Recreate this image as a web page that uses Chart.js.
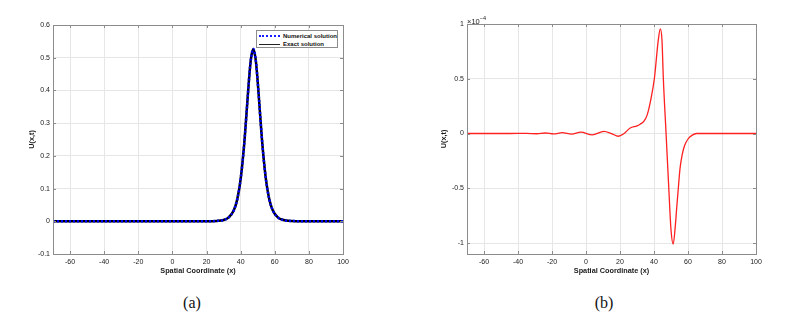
<!DOCTYPE html>
<html>
<head>
<meta charset="utf-8">
<script src="https://cdn.jsdelivr.net/npm/chart.js@4/dist/chart.umd.min.js"></script>
<style>
  body { margin: 0; background: #fff; }
  #wrap { position: relative; width: 804px; height: 322px; overflow: hidden; font-family: "Liberation Sans", Arial, sans-serif; }
  canvas { position: absolute; top: 0; }
  .legend { position: absolute; left: 256px; top: 30px; width: 82px; height: 18px; box-sizing: border-box;
            border: 1px solid #8c8c8c; background: #fff; font-family: "Liberation Sans", Arial, sans-serif;
            font-weight: bold; font-size: 6px; color: #111; padding: 1px 0 0 2px; z-index: 2; }
  .legend .row { height: 8px; line-height: 8px; display: flex; align-items: center; white-space: nowrap; }
  .legend .sample { width: 21px; margin-right: 3px; height: 0; }
  .legend .dotted { border-top: 2px dotted #1a1aff; }
  .legend .solid { border-top: 1px solid #222; }
  .expo { position: absolute; left: 467px; top: 15px; font-size: 7.5px; color: #222; z-index: 2; }
  .expo sup { font-size: 5.5px; }
  .cap { position: absolute; top: 294px; width: 60px; text-align: center; font-family: "Liberation Serif", "DejaVu Serif", "Times New Roman", serif;
         font-size: 16px; color: #111; }
</style>
</head>
<body>
<div id="wrap">
  <canvas id="chart-a" width="400" height="290" style="left:0"></canvas>
  <canvas id="chart-b" width="404" height="290" style="left:400px"></canvas>
  <div class="legend">
    <div class="row"><span class="sample dotted"></span>Numerical solution</div>
    <div class="row"><span class="sample solid"></span>Exact solution</div>
  </div>
  <div class="expo">&times;10<sup>&minus;4</sup></div>
  <div class="cap" style="left:162px">(a)</div>
  <div class="cap" style="left:574px">(b)</div>
</div>
<script>
// tick labels
const xTicks = [-60, -40, -20, 0, 20, 40, 60, 80, 100];
const yTicksA = [-0.1, 0, 0.1, 0.2, 0.3, 0.4, 0.5, 0.6];
const yTicksB = [-1, -0.5, 0, 0.5, 1]; // x 10^-4

// (a) soliton
const xA = [-70, -40, 0, 20, 26, 30, 33, 36, 38, 40, 42, 44, 45, 46, 47.4, 48.8, 49.8, 50.8, 52.8, 54.8, 56.8, 58.8, 61.8, 65, 70, 80, 100];
const uA = [0, 0, 0, 0, 0.001, 0.004, 0.012, 0.034, 0.067, 0.129, 0.231, 0.37, 0.44, 0.495, 0.527, 0.495, 0.44, 0.37, 0.231, 0.129, 0.067, 0.034, 0.012, 0.004, 0.001, 0, 0];

// (b) error, in units of 1e-4
const xB = [-70, -45, -35, -29, -24, -19, -14, -8.5, -3, 3.7, 10.5, 15, 19, 22, 26, 30, 31.8, 34, 36, 38, 40.2, 42.5, 43.7, 44.7, 45.5, 47.1, 48.7, 50, 51.3, 52.5, 53.5, 54.3, 55.3, 56.5, 58, 60, 62.5, 65, 70, 80, 100];
const uB = [0, 0, 0.001, -0.002, 0.005, -0.004, 0.008, -0.006, 0.012, -0.012, 0.02, 0, -0.025, -0.005, 0.05, 0.07, 0.085, 0.11, 0.17, 0.3, 0.5, 0.85, 0.955, 0.85, 0.5, 0, -0.5, -0.88, -1.01, -0.85, -0.65, -0.5, -0.32, -0.2, -0.11, -0.05, -0.015, 0, 0, 0, 0];

Chart.defaults.font.family = '"Liberation Sans", Arial, sans-serif';
Chart.defaults.color = '#1a1a1a';

function pts(xs, ys) {
  return xs.map((x, i) => ({ x: x, y: ys[i] }));
}

// matlab style box with inward ticks
const boxPlugin = {
  id: 'box',
  afterDatasetsDraw(chart) {
    const { ctx, chartArea: a, scales } = chart;
    ctx.save();
    ctx.strokeStyle = '#8c8c8c';
    ctx.lineWidth = 1;
    ctx.strokeRect(Math.round(a.left) + 0.5, Math.round(a.top) + 0.5, Math.round(a.width), Math.round(a.height));
    ctx.beginPath();
    scales.x.ticks.forEach(t => {
      const p = Math.round(scales.x.getPixelForValue(t.value)) + 0.5;
      ctx.moveTo(p, a.bottom); ctx.lineTo(p, a.bottom - 3);
      ctx.moveTo(p, a.top); ctx.lineTo(p, a.top + 3);
    });
    scales.y.ticks.forEach(t => {
      const p = Math.round(scales.y.getPixelForValue(t.value)) + 0.5;
      ctx.moveTo(a.left, p); ctx.lineTo(a.left + 3, p);
      ctx.moveTo(a.right, p); ctx.lineTo(a.right - 3, p);
    });
    ctx.stroke();
    ctx.restore();
  }
};

function axes(yTicks, yMin, yMax, yWidth, yTitlePad, fmt) {
  return {
    x: {
      type: 'linear', min: -70, max: 100,
      afterBuildTicks: s => { s.ticks = xTicks.map(v => ({ value: v })); },
      afterFit: s => { s.height = 36; },
      grid: { color: '#e6e6e6', drawTicks: false },
      border: { display: false },
      ticks: { padding: 4, font: { size: 7 }, maxRotation: 0, autoSkip: false },
      title: { display: true, text: 'Spatial Coordinate (x)', font: { size: 7.3, weight: 'bold' }, padding: { top: 0, bottom: 15 } }
    },
    y: {
      type: 'linear', min: yMin, max: yMax,
      afterBuildTicks: s => { s.ticks = yTicks.map(v => ({ value: v })); },
      afterFit: s => { s.width = yWidth; },
      grid: { color: '#e6e6e6', drawTicks: false },
      border: { display: false },
      ticks: { padding: 3, font: { size: 7 }, autoSkip: false, callback: fmt },
      title: { display: true, text: 'U(x,t)', font: { size: 7.3, weight: 'bold' }, padding: { top: yTitlePad, bottom: 0 } }
    }
  };
}

new Chart(document.getElementById('chart-a'), {
  type: 'line',
  data: {
    datasets: [{
      label: 'Numerical solution',
      data: pts(xA, uA),
      borderColor: '#0000ff',
      borderWidth: 2.5,
      borderDash: [2, 2],
      pointRadius: 0,
      cubicInterpolationMode: 'monotone',
      fill: false
    }, {
      label: 'Exact solution',
      data: pts(xA, uA),
      borderColor: '#000000',
      borderWidth: 2.5,
      pointRadius: 0,
      cubicInterpolationMode: 'monotone',
      fill: false
    }]
  },
  options: {
    responsive: false,
    animation: false,
    layout: { padding: { top: 25, right: 57, left: 0, bottom: 0 } },
    plugins: { legend: { display: false }, tooltip: { enabled: false } },
    scales: axes(yTicksA, -0.1, 0.6, 53, 28, v => (Math.abs(v) < 1e-9 ? '0' : v.toFixed(1)))
  },
  plugins: [boxPlugin]
});

new Chart(document.getElementById('chart-b'), {
  type: 'line',
  data: {
    datasets: [{
      label: 'Error',
      data: pts(xB, uB),
      borderColor: '#ff2020',
      borderWidth: 1.3,
      pointRadius: 0,
      cubicInterpolationMode: 'monotone',
      fill: false
    }]
  },
  options: {
    responsive: false,
    animation: false,
    layout: { padding: { top: 24, right: 48, left: 0, bottom: 0 } },
    plugins: { legend: { display: false }, tooltip: { enabled: false } },
    scales: axes(yTicksB, -1.1, 1, 67, 40, v => String(v))
  },
  plugins: [boxPlugin]
});
</script>
</body>
</html>
